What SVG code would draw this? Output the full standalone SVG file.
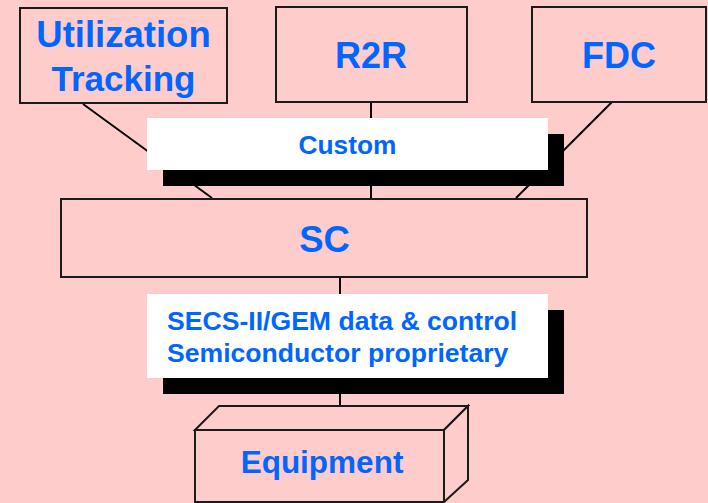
<svg xmlns="http://www.w3.org/2000/svg" width="708" height="503" viewBox="0 0 708 503">
<style>
.bg{fill:#FFCCCC}
.box{fill:#FFCCCC;stroke:#1a1a1a;stroke-width:2}
.lbl{fill:#0066FF;font-family:"Liberation Sans",Arial,sans-serif;font-weight:bold}
.c{text-anchor:middle}
.conn{stroke:#000;stroke-width:2;fill:none}
.shadow{fill:#000}
.white{fill:#fff}
</style>
<rect class="bg" x="0" y="0" width="708" height="503"/>
<g id="connectors">
<line class="conn" x1="83" y1="104" x2="212" y2="198"/>
<line class="conn" x1="371" y1="102" x2="371" y2="198"/>
<line class="conn" x1="612" y1="102" x2="516" y2="198"/>
<line class="conn" x1="340" y1="278" x2="340" y2="407"/>
</g>
<g id="utilization">
<rect class="box" x="20" y="8" width="207" height="95"/>
<text class="lbl c" x="123.5" y="47" font-size="36.5">Utilization</text>
<text class="lbl c" x="123.5" y="91" font-size="35">Tracking</text>
</g>
<g id="r2r">
<rect class="box" x="276" y="7" width="191" height="95"/>
<text class="lbl c" x="371" y="68" font-size="36">R2R</text>
</g>
<g id="fdc">
<rect class="box" x="532" y="7" width="174" height="95"/>
<text class="lbl c" x="619" y="68" font-size="36">FDC</text>
</g>
<g id="custom">
<rect class="shadow" x="163" y="134" width="401" height="52"/>
<rect class="white" x="147" y="118" width="401" height="52"/>
<text class="lbl c" x="347.5" y="154" font-size="26.3">Custom</text>
</g>
<g id="sc">
<rect class="box" x="61" y="199" width="526" height="78"/>
<text class="lbl c" x="324.5" y="252" font-size="36.5">SC</text>
</g>
<g id="secs">
<rect class="shadow" x="163" y="310" width="401" height="84"/>
<rect class="white" x="147" y="294" width="401" height="84"/>
<text class="lbl" x="167" y="330" font-size="26.6">SECS-II/GEM data &amp; control</text>
<text class="lbl" x="167" y="362" font-size="26.6">Semiconductor proprietary</text>
</g>
<g id="equipment">
<polygon class="box" points="195,430 219,406 468,406 444,430"/>
<polygon class="box" points="444,430 468,406 468,480 444,502"/>
<rect class="box" x="195" y="430" width="249" height="72"/>
<text class="lbl c" x="322" y="473" font-size="31.5">Equipment</text>
</g>
</svg>
